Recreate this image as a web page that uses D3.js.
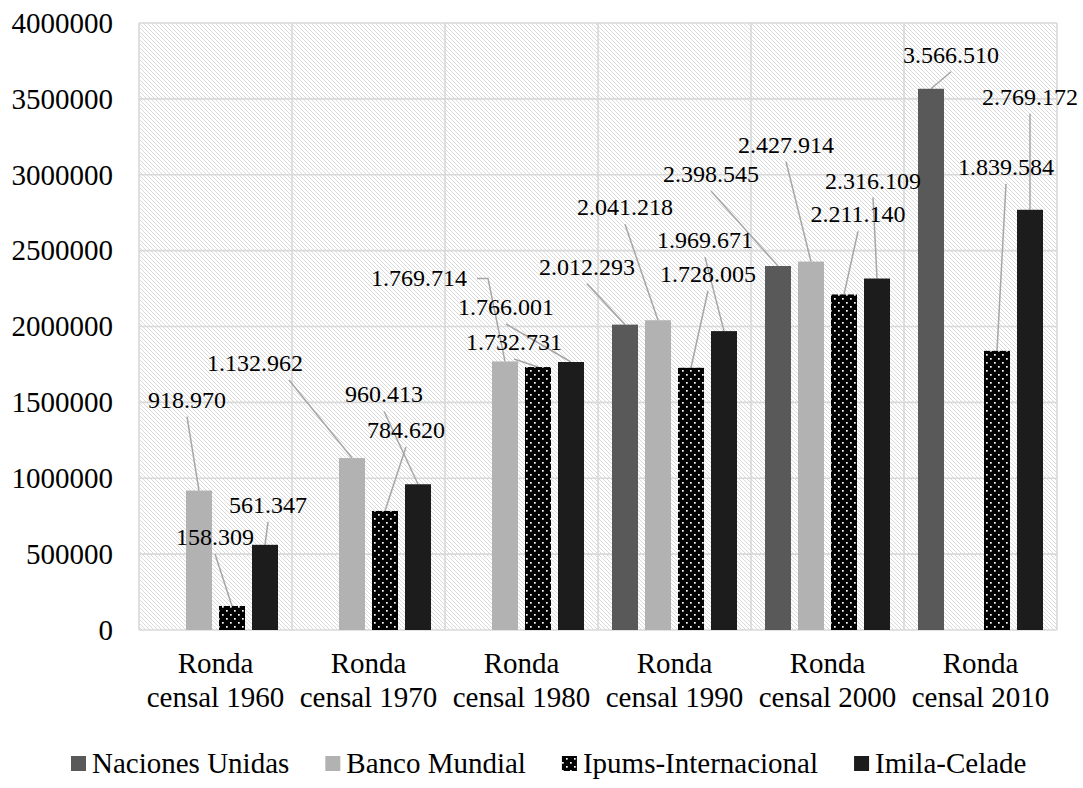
<!DOCTYPE html>
<html>
<head>
<meta charset="utf-8">
<script src="https://cdn.jsdelivr.net/npm/d3@7"></script>
<style>
  body { margin: 0; background: #fff; }
  text { font-family: "Liberation Serif", "Times New Roman", serif; fill: #000; }
</style>
</head>
<body>
<div id="chart"></div>
<script>
// data
var categories = ["Ronda censal 1960", "Ronda censal 1970", "Ronda censal 1980",
                  "Ronda censal 1990", "Ronda censal 2000", "Ronda censal 2010"];
var seriesNames = ["Naciones Unidas", "Banco Mundial", "Ipums-Internacional", "Imila-Celade"];
var nacionesUnidas = [null, null, null, 2012293, 2398545, 3566510];
var bancoMundial   = [918970, 1132962, 1769714, 2041218, 2427914, null];
var ipums          = [158309, 784620, 1732731, 1728005, 2211140, 1839584];
var imila          = [561347, 960413, 1766001, 1969671, 2316109, 2769172];
var yTicks = [0, 500000, 1000000, 1500000, 2000000, 2500000, 3000000, 3500000, 4000000];

// where each data label sits relative to the top of its bar: [dx, dy to baseline, leader start]
// leader start: number = x offset on the label's bottom edge, "right" = from the right side
var labelOffsets = [
  [null, null, null, [-38, -50, 0], [-67, -84, 0], [20, -26, 0]],
  [[-12, -83, 0], [-97, -87, 34], [-86, -75, "right"], [-33, -105, 0], [-25, -109, 0], null],
  [[-17, -61, 0], [21, -73, 0], [-24, -17, 0], [17, -86, 0], [14, -72, 0], [9, -176, 0]],
  [[3, -32, 0], [-34, -82, 0], [-65, -47, 0], [-19, -83, 0], [-4, -90, 0], [0, -105, 0]]
];

var seriesValues = [nacionesUnidas, bancoMundial, ipums, imila];
var colors = ["#595959", "#b2b2b2", "url(#dots)", "#1c1c1c"];

width = 1083
height = 788

var margin = {left: 139, right: 26, top: 23, bottom: 158};

var svg = d3.select("#chart").append("svg")
    .attr("width", width)
    .attr("height", height);

var defs = svg.append("defs");

//diagonal hatch for the plot background
var hatch = defs.append("pattern")
    .attr("id", "hatch")
    .attr("patternUnits", "userSpaceOnUse")
    .attr("width", 4).attr("height", 4);
hatch.append("rect").attr("width", 4).attr("height", 4).attr("fill", "#fff");
hatch.append("path")
    .attr("d", "M0,0L4,4M3,-1L5,1M-1,3L1,5")
    .attr("stroke", "#dadada").attr("stroke-width", 1);

//white dots on black for Ipums
var dots = defs.append("pattern")
    .attr("id", "dots")
    .attr("patternUnits", "userSpaceOnUse")
    .attr("width", 8).attr("height", 8);
dots.append("rect").attr("width", 8).attr("height", 8).attr("fill", "#000");
dots.append("rect").attr("x", 2).attr("y", 2).attr("width", 1.7).attr("height", 1.7).attr("fill", "#fff");
dots.append("rect").attr("x", 6).attr("y", 6).attr("width", 1.7).attr("height", 1.7).attr("fill", "#fff");

var x0 = d3.scaleBand()
    .domain(categories)
    .range([margin.left, width - margin.right]);

var x1 = d3.scaleBand()
    .domain(seriesNames)
    .range([0, x0.bandwidth()])
    .paddingInner(0.212)
    .paddingOuter(0.424);

var y = d3.scaleLinear()
    .domain([0, 4000000])
    .range([height - margin.bottom, margin.top]);

var fmt = d3.formatLocale({decimal: ",", thousands: ".", grouping: [3], currency: ["", ""]}).format(",d");

//plot background
svg.append("rect")
    .attr("x", margin.left).attr("y", margin.top)
    .attr("width", width - margin.left - margin.right)
    .attr("height", y(0) - margin.top)
    .attr("fill", "url(#hatch)");

//grid
var grid = svg.append("g").attr("stroke", "#d9d9d9").attr("stroke-width", 1.6);
grid.selectAll(".hg").data(yTicks).enter().append("line")
    .attr("x1", margin.left).attr("x2", width - margin.right)
    .attr("y1", d => y(d)).attr("y2", d => y(d));
grid.selectAll(".vg").data(categories.concat([null])).enter().append("line")
    .attr("x1", (d, i) => i < categories.length ? x0(d) : x0.range()[1])
    .attr("x2", (d, i) => i < categories.length ? x0(d) : x0.range()[1])
    .attr("y1", margin.top).attr("y2", y(0));

//y axis labels
svg.append("g").selectAll("text").data(yTicks).enter().append("text")
    .attr("x", 113).attr("y", d => y(d)).attr("dy", "0.34em")
    .attr("text-anchor", "end")
    .style("font-size", "29px")
    .text(d => d);

//category labels, two lines each
var cat = svg.append("g").selectAll("text").data(categories).enter().append("text")
    .attr("text-anchor", "middle")
    .style("font-size", "29px");
cat.append("tspan")
    .attr("x", d => x0(d) + x0.bandwidth() / 2).attr("y", 673)
    .text(d => d.split(" ")[0]);
cat.append("tspan")
    .attr("x", d => x0(d) + x0.bandwidth() / 2).attr("y", 707)
    .text(d => d.split(" ").slice(1).join(" "));

//flatten bars
var bars = [];
seriesValues.forEach(function(vals, s) {
  vals.forEach(function(v, c) {
    if (v == null) return;
    bars.push({s: s, c: c, value: v, off: labelOffsets[s][c]});
  });
});

//leader lines
var leaders = svg.append("g").attr("fill", "none").attr("stroke", "#a6a6a6").attr("stroke-width", 1.5);
bars.forEach(function(d) {
  var bx = x0(categories[d.c]) + x1(seriesNames[d.s]) + x1.bandwidth() / 2;
  var by = y(d.value);
  var lx = bx + d.off[0], base = by + d.off[1];
  var str = fmt(d.value);
  var w = 24 * (str.length - (str.split(".").length - 1) * 0.5) * 0.5;
  var path;
  if (d.off[2] === "right") {
    var sx = lx + w / 2 + 10, cy = base - 8;
    path = "M" + sx + "," + cy + "H" + (sx + 11) + "L" + bx + "," + by;
  } else {
    if (base + 9 > by - 4) return;
    path = "M" + (lx + d.off[2]) + "," + (base + 9) + "L" + bx + "," + by;
  }
  leaders.append("path").attr("d", path);
});

//bars
svg.append("g").selectAll("rect").data(bars).enter().append("rect")
    .attr("x", d => x0(categories[d.c]) + x1(seriesNames[d.s]))
    .attr("y", d => y(d.value))
    .attr("width", x1.bandwidth())
    .attr("height", d => y(0) - y(d.value))
    .attr("fill", d => colors[d.s]);

//data labels
svg.append("g").selectAll("text").data(bars).enter().append("text")
    .attr("x", d => x0(categories[d.c]) + x1(seriesNames[d.s]) + x1.bandwidth() / 2 + d.off[0])
    .attr("y", d => y(d.value) + d.off[1])
    .attr("text-anchor", "middle")
    .style("font-size", "24px")
    .text(d => fmt(d.value));

//legend
var legend = svg.append("g");
var lx = 71, ly = 773;
seriesNames.forEach(function(name, i) {
  legend.append("rect")
    .attr("x", lx).attr("y", ly - 17).attr("width", 15).attr("height", 15)
    .attr("fill", colors[i]);
  var t = legend.append("text")
    .attr("x", lx + 21).attr("y", ly)
    .style("font-size", "29px")
    .text(name);
  lx += 21 + t.node().getComputedTextLength() + 36;
});
</script>
</body>
</html>
